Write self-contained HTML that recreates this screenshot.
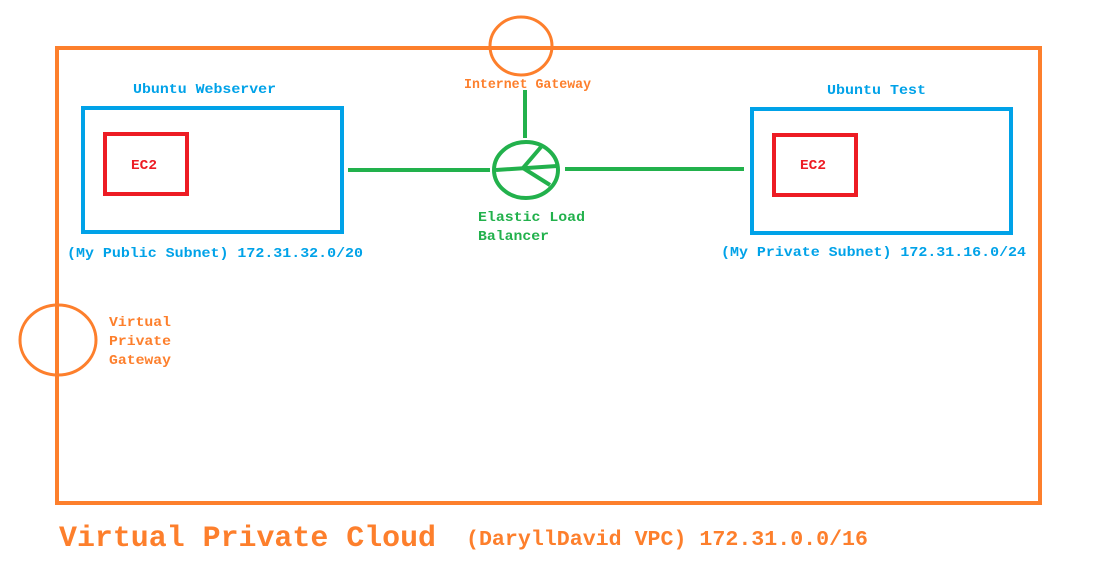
<!DOCTYPE html>
<html><head><meta charset="utf-8"><style>
html,body{margin:0;padding:0;background:#fff;width:1120px;height:573px;overflow:hidden}
text{font-family:"Liberation Mono",monospace;font-weight:bold}
</style></head><body>
<svg width="1120" height="573" xmlns="http://www.w3.org/2000/svg">
<rect x="57" y="48" width="983" height="455" fill="none" stroke="#fd7f2c" stroke-width="4"/>
<ellipse cx="521" cy="46" rx="31" ry="29" fill="none" stroke="#fd7f2c" stroke-width="3"/>
<ellipse cx="58" cy="340" rx="38" ry="35" fill="none" stroke="#fd7f2c" stroke-width="3"/>
<rect x="83" y="108" width="259" height="124" fill="none" stroke="#00a2e8" stroke-width="4"/>
<rect x="752" y="109" width="259" height="124" fill="none" stroke="#00a2e8" stroke-width="4"/>
<rect x="105" y="134" width="82" height="60" fill="none" stroke="#ed1c24" stroke-width="4"/>
<rect x="774" y="135" width="82" height="60" fill="none" stroke="#ed1c24" stroke-width="4"/>
<g stroke="#22b14c" stroke-width="4" fill="none">
<line x1="348" y1="170" x2="490" y2="170"/>
<line x1="565" y1="169" x2="744" y2="169"/>
<line x1="525" y1="90" x2="525" y2="138"/>
<ellipse cx="526" cy="170" rx="32" ry="28"/>
<line x1="496" y1="170" x2="557" y2="166"/>
<line x1="523" y1="168" x2="541" y2="147"/>
<line x1="523" y1="168" x2="550" y2="185"/>
</g>
<g font-size="14">
<text x="464" y="88" fill="#fd7f2c" textLength="127" lengthAdjust="spacingAndGlyphs">Internet Gateway</text>
<text x="133" y="93" fill="#00a2e8" textLength="143" lengthAdjust="spacingAndGlyphs">Ubuntu Webserver</text>
<text x="827" y="94" fill="#00a2e8" textLength="99" lengthAdjust="spacingAndGlyphs">Ubuntu Test</text>
<text x="131" y="169" fill="#ed1c24" textLength="26" lengthAdjust="spacingAndGlyphs">EC2</text>
<text x="800" y="169" fill="#ed1c24" textLength="26" lengthAdjust="spacingAndGlyphs">EC2</text>
<text x="67" y="257" fill="#00a2e8" textLength="296" lengthAdjust="spacingAndGlyphs">(My Public Subnet) 172.31.32.0/20</text>
<text x="721" y="256" fill="#00a2e8" textLength="305" lengthAdjust="spacingAndGlyphs">(My Private Subnet) 172.31.16.0/24</text>
<text x="478" y="221" fill="#22b14c" textLength="107" lengthAdjust="spacingAndGlyphs">Elastic Load</text>
<text x="478" y="240" fill="#22b14c" textLength="71" lengthAdjust="spacingAndGlyphs">Balancer</text>
<text x="109" y="326" fill="#fd7f2c" textLength="62" lengthAdjust="spacingAndGlyphs">Virtual</text>
<text x="109" y="345" fill="#fd7f2c" textLength="62" lengthAdjust="spacingAndGlyphs">Private</text>
<text x="109" y="364" fill="#fd7f2c" textLength="62" lengthAdjust="spacingAndGlyphs">Gateway</text>
</g>
<text x="59" y="546" font-size="30" fill="#fd7f2c" textLength="377" lengthAdjust="spacingAndGlyphs">Virtual Private Cloud</text>
<text x="466" y="545" font-size="21.5" fill="#fd7f2c" textLength="402" lengthAdjust="spacingAndGlyphs">(DaryllDavid VPC) 172.31.0.0/16</text>
</svg>
</body></html>
